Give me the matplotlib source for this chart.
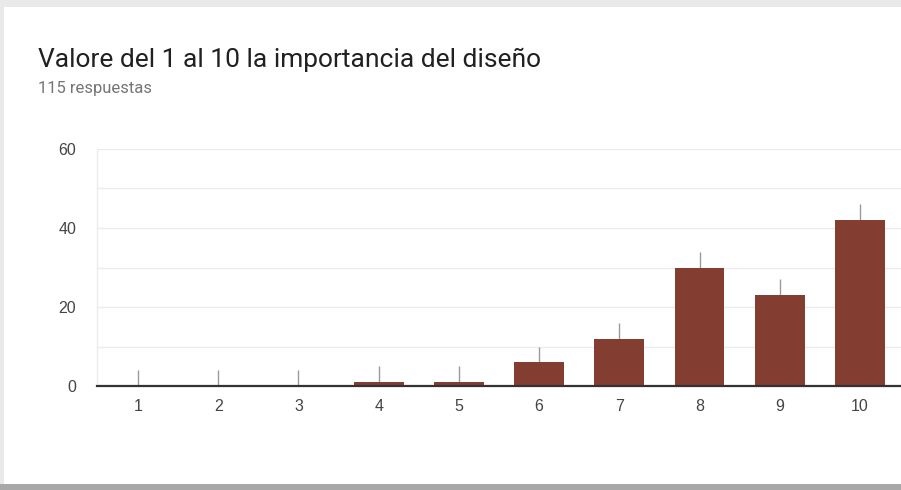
import matplotlib
matplotlib.use("Agg")
import matplotlib.pyplot as plt
from matplotlib.patches import Rectangle
from matplotlib.ticker import MultipleLocator

plt.rcParams['font.family'] = ['Roboto', 'DejaVu Sans']

categories = ["1", "2", "3", "4", "5", "6", "7", "8", "9", "10"]
counts = [0, 0, 0, 1, 1, 6, 12, 30, 23, 42]
y_ticks = [0, 20, 40, 60]
title = "Valore del 1 al 10 la importancia del diseño"
subtitle = "115 respuestas"

W, H = 901, 490
fig = plt.figure(figsize=(W / 100, H / 100), dpi=100)
fig.patch.set_facecolor("#e9e9e9")

# card background with a darker bottom shadow
bg = fig.add_axes([0, 0, 1, 1], zorder=0)
bg.set_xlim(0, W)
bg.set_ylim(H, 0)
bg.axis("off")
bg.add_patch(Rectangle((0, H - 6), W, 6, facecolor="#a8a8a8", edgecolor="none"))
bg.add_patch(Rectangle((4, 7), W, H - 13, facecolor="white", edgecolor="none"))

ax = fig.add_axes([97 / W, (H - 386) / H, 1 - 97 / W, (386 - 149) / H], zorder=1)
ax.set_facecolor("none")

x = list(range(1, len(categories) + 1))
ax.bar(x, counts, width=0.62, color="#833d31", zorder=3)

# leader ticks above each bar
for xi, v in zip(x, counts):
    ax.plot([xi, xi], [v, v + 4], color="#9a9a9a", lw=1, zorder=2,
            solid_capstyle="butt")

ax.set_xlim(0.49, 10.51)
ax.set_ylim(0, 60)
ax.set_yticks(y_ticks)
ax.yaxis.set_minor_locator(MultipleLocator(10))
ax.set_xticks(x)
ax.set_xticklabels(categories)
ax.grid(axis="y", which="both", color="#ececec", lw=1, zorder=0)
ax.tick_params(axis="both", which="both", length=0, labelsize=11.5,
               labelcolor="#444444")
for lbl in ax.get_xticklabels() + ax.get_yticklabels():
    lbl.set_family(["Liberation Sans", "DejaVu Sans"])
ax.tick_params(axis="y", pad=15)
ax.tick_params(axis="x", pad=9)

for s in ["top", "right"]:
    ax.spines[s].set_visible(False)
ax.spines["left"].set_color("#ececec")
ax.spines["left"].set_linewidth(1)
ax.spines["bottom"].set_color("#333333")
ax.spines["bottom"].set_linewidth(1.6)
ax.spines["bottom"].set_zorder(4)

fig.text(38 / W, 1 - 67 / H, title, fontsize=19, color="#212121", ha="left",
         va="baseline", zorder=5)
fig.text(38 / W, 1 - 93 / H, subtitle, fontsize=12, color="#757575", ha="left",
         va="baseline", zorder=5)

fig.savefig("out.png", dpi=100, facecolor=fig.get_facecolor())
